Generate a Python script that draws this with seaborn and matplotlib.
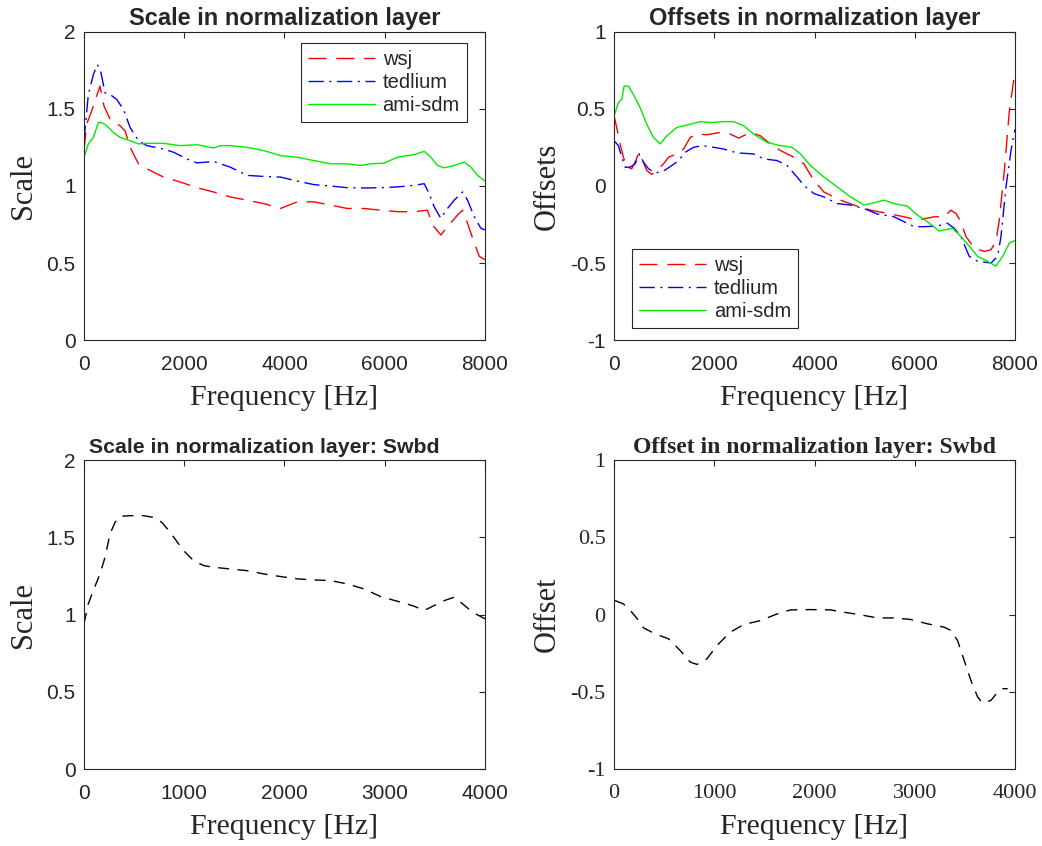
import numpy as np
import pandas as pd
import matplotlib
matplotlib.use("Agg")
import matplotlib.pyplot as plt
import seaborn as sns

# ---------------- data ----------------
wsj_scale_f = [0, 53, 153, 240, 320, 400, 520, 720, 820, 920, 1087, 1320, 1587, 1920, 2253, 2587,
               2920, 3253, 3587, 3920, 4253, 4587, 4920, 5253, 5587, 5920, 6253, 6587, 6853, 6953,
               7120, 7253, 7453, 7553, 7653, 7787, 7887, 8000]
wsj_scale_v = [1.230, 1.401, 1.487, 1.573, 1.648, 1.519, 1.433, 1.391, 1.358, 1.251, 1.144, 1.101,
               1.058, 1.026, 0.989, 0.961, 0.929, 0.908, 0.886, 0.854, 0.897, 0.897, 0.876, 0.854,
               0.854, 0.843, 0.833, 0.833, 0.843, 0.747, 0.682, 0.736, 0.811, 0.843, 0.758, 0.629,
               0.543, 0.521]

ted_scale_f = [0, 87, 187, 267, 333, 420, 520, 653, 787, 920, 1087, 1253, 1587, 1787, 2053, 2253,
               2587, 2920, 3253, 3587, 3920, 4253, 4587, 4920, 5253, 5587, 5920, 6253, 6587, 6787,
               6887, 6987, 7120, 7253, 7387, 7553, 7653, 7787, 7920, 8000]
ted_scale_v = [1.294, 1.594, 1.723, 1.788, 1.745, 1.605, 1.594, 1.562, 1.498, 1.380, 1.294, 1.262,
               1.240, 1.219, 1.176, 1.150, 1.159, 1.122, 1.069, 1.062, 1.058, 1.032, 1.009, 1.000,
               0.989, 0.987, 0.989, 0.994, 1.004, 1.015, 0.951, 0.865, 0.790, 0.854, 0.908, 0.961,
               0.908, 0.800, 0.725, 0.715]

ami_scale_f = [0, 87, 187, 287, 353, 453, 587, 720, 920, 1087, 1253, 1587, 1920, 2253, 2587, 2720,
               2920, 3253, 3587, 3920, 4253, 4587, 4920, 5253, 5520, 5720, 5987, 6253, 6587, 6787,
               6920, 7053, 7187, 7387, 7587, 7720, 7853, 8000]
ami_scale_v = [1.187, 1.273, 1.315, 1.412, 1.412, 1.391, 1.348, 1.315, 1.294, 1.273, 1.277, 1.277,
               1.262, 1.268, 1.247, 1.262, 1.262, 1.251, 1.230, 1.197, 1.187, 1.165, 1.144, 1.144,
               1.133, 1.144, 1.148, 1.187, 1.204, 1.225, 1.187, 1.133, 1.118, 1.133, 1.155, 1.122,
               1.069, 1.032]

wsj_off_f = [0, 53, 120, 187, 253, 353, 420, 487, 553, 653, 753, 853, 987, 1087, 1253, 1387, 1520,
             1653, 1853, 2120, 2320, 2487, 2720, 2920, 3120, 3320, 3587, 3787, 3987, 4187, 4520,
             4787, 5120, 5453, 5787, 6053, 6387, 6587, 6720, 6820, 6920, 7020, 7187, 7387, 7520,
             7620, 7687, 7787, 7887, 8000]
wsj_off_v = [0.455, 0.380, 0.273, 0.187, 0.122, 0.112, 0.155, 0.208, 0.176, 0.101, 0.075, 0.101,
             0.144, 0.187, 0.208, 0.240, 0.315, 0.337, 0.333, 0.348, 0.337, 0.311, 0.348, 0.326,
             0.273, 0.230, 0.187, 0.144, 0.036, -0.039, -0.092, -0.124, -0.157, -0.178, -0.200,
             -0.221, -0.200, -0.200, -0.157, -0.178, -0.232, -0.328, -0.403, -0.425, -0.414,
             -0.360, -0.221, 0.101, 0.487, 0.745]

ted_off_f = [0, 87, 153, 220, 320, 420, 507, 587, 687, 820, 987, 1153, 1287, 1420, 1587, 1753,
             1920, 2187, 2453, 2787, 2987, 3253, 3453, 3653, 3787, 3987, 4187, 4453, 4720, 4987,
             5253, 5587, 5787, 5987, 6187, 6453, 6653, 6787, 6920, 7087, 7253, 7520, 7653, 7720,
             7820, 7920, 8000]
ted_off_v = [0.294, 0.262, 0.187, 0.122, 0.122, 0.144, 0.208, 0.155, 0.112, 0.084, 0.097, 0.133,
             0.165, 0.219, 0.251, 0.262, 0.255, 0.240, 0.215, 0.208, 0.176, 0.165, 0.133, 0.058,
             0.004, -0.049, -0.071, -0.114, -0.124, -0.146, -0.182, -0.200, -0.232, -0.264,
             -0.264, -0.260, -0.242, -0.275, -0.328, -0.457, -0.489, -0.500, -0.457, -0.328,
             -0.006, 0.230, 0.369]

ami_off_f = [0, 87, 153, 200, 287, 387, 520, 653, 787, 920, 1053, 1253, 1520, 1720, 1920, 2187,
             2387, 2587, 2787, 3053, 3320, 3553, 3720, 3920, 4187, 4453, 4720, 4987, 5187, 5387,
             5587, 5853, 6053, 6253, 6487, 6753, 6920, 7120, 7253, 7453, 7620, 7753, 7887, 8000]
ami_off_v = [0.455, 0.541, 0.562, 0.648, 0.648, 0.594, 0.509, 0.401, 0.315, 0.273, 0.326, 0.380,
             0.401, 0.418, 0.412, 0.418, 0.418, 0.391, 0.337, 0.283, 0.262, 0.251, 0.208, 0.133,
             0.058, -0.006, -0.071, -0.124, -0.109, -0.092, -0.114, -0.131, -0.189, -0.232,
             -0.292, -0.275, -0.328, -0.403, -0.457, -0.489, -0.521, -0.457, -0.371, -0.354]

swbd_scale_f = [0, 43, 93, 160, 210, 260, 310, 360, 460, 593, 693, 777, 860, 993, 1093, 1193, 1293,
                1460, 1627, 1793, 1960, 2127, 2293, 2460, 2627, 2793, 2960, 3127, 3293, 3393, 3493,
                3593, 3693, 3777, 3877, 4000]
swbd_scale_v = [0.940, 1.069, 1.155, 1.263, 1.371, 1.522, 1.597, 1.636, 1.640, 1.640, 1.629, 1.597,
                1.532, 1.414, 1.349, 1.317, 1.306, 1.295, 1.284, 1.263, 1.246, 1.231, 1.224, 1.220,
                1.198, 1.166, 1.116, 1.086, 1.054, 1.026, 1.058, 1.090, 1.112, 1.069, 1.015, 0.972]

swbd_off_f = [10, 93, 177, 260, 293, 410, 543, 660, 760, 827, 927, 1027, 1160, 1293, 1460, 1627,
              1760, 1960, 2160, 2293, 2460, 2627, 2793, 2960, 3127, 3293, 3360, 3427, 3493, 3560,
              3627, 3677, 3760, 3827, 3877, 3927]
swbd_off_v = [0.090, 0.069, 0.015, -0.050, -0.086, -0.125, -0.157, -0.233, -0.308, -0.323, -0.287,
              -0.200, -0.114, -0.065, -0.039, 0.004, 0.030, 0.032, 0.030, 0.015, -0.002, -0.022,
              -0.022, -0.032, -0.060, -0.082, -0.103, -0.168, -0.297, -0.427, -0.534, -0.573,
              -0.556, -0.502, -0.480, -0.480]

series_names = ["wsj", "tedlium", "ami-sdm"]

# ---------------- style ----------------
sns.set_style("white")
plt.rcParams["font.family"] = ["Liberation Sans", "DejaVu Sans"]
plt.rcParams["axes.edgecolor"] = "#262626"
plt.rcParams["axes.linewidth"] = 0.8
plt.rcParams["xtick.color"] = "#262626"
plt.rcParams["ytick.color"] = "#262626"

SERIF = ["Liberation Serif", "DejaVu Serif"]
SANS = ["Liberation Sans", "DejaVu Sans"]

fig = plt.figure(figsize=(10.42, 8.46), dpi=100)
ax1 = fig.add_axes([0.0806, 0.5981, 0.3848, 0.3641])
ax2 = fig.add_axes([0.5893, 0.5981, 0.3848, 0.3641])
ax3 = fig.add_axes([0.0806, 0.0910, 0.3848, 0.3652])
ax4 = fig.add_axes([0.5893, 0.0910, 0.3848, 0.3652])

RED = (1, 0, 0)
BLUE = (0, 0, 1)
GREEN = (0.0, 0.93, 0.0)
DASH_WSJ = (13, 7)
DASH_TED = (11, 4, 1.5, 4)


def draw_three(ax, data, legend_loc, anchor):
    (f1, v1), (f2, v2), (f3, v3) = data
    sns.lineplot(x=f1, y=v1, ax=ax, color=RED, lw=1.0, label=series_names[0])
    ax.lines[-1].set_dashes(DASH_WSJ)
    sns.lineplot(x=f2, y=v2, ax=ax, color=BLUE, lw=1.0, label=series_names[1])
    ax.lines[-1].set_dashes(DASH_TED)
    sns.lineplot(x=f3, y=v3, ax=ax, color=GREEN, lw=1.0, label=series_names[2])
    leg = ax.legend(loc=legend_loc, bbox_to_anchor=anchor, fontsize=14.5, handlelength=3.3,
                    frameon=True, fancybox=False, edgecolor="#262626", borderpad=0.35,
                    labelspacing=0.2, handletextpad=0.4, borderaxespad=0.0, framealpha=1)
    leg.get_frame().set_linewidth(0.8)


draw_three(ax1, [(wsj_scale_f, wsj_scale_v), (ted_scale_f, ted_scale_v),
                 (ami_scale_f, ami_scale_v)], "upper right", (0.955, 0.964))
draw_three(ax2, [(wsj_off_f, wsj_off_v), (ted_off_f, ted_off_v),
                 (ami_off_f, ami_off_v)], "lower left", (0.045, 0.039))

sns.lineplot(x=swbd_scale_f, y=swbd_scale_v, ax=ax3, color="black", lw=1.0)
ax3.lines[-1].set_dashes((8, 6))
sns.lineplot(x=swbd_off_f, y=swbd_off_v, ax=ax4, color="black", lw=1.0)
ax4.lines[-1].set_dashes((8, 6))

# ---------------- axes formatting ----------------
cfg = [
    (ax1, (0, 8000), (0, 2), [0, 2000, 4000, 6000, 8000], [0, 0.5, 1, 1.5, 2],
     ["0", "0.5", "1", "1.5", "2"], "Scale", "Scale in normalization layer", False, 17, 0.5),
    (ax2, (0, 8000), (-1, 1), [0, 2000, 4000, 6000, 8000], [-1, -0.5, 0, 0.5, 1],
     ["-1", "-0.5", "0", "0.5", "1"], "Offsets", "Offsets in normalization layer", False, 17, 0.5),
    (ax3, (0, 4000), (0, 2), [0, 1000, 2000, 3000, 4000], [0, 0.5, 1, 1.5, 2],
     ["0", "0.5", "1", "1.5", "2"], "Scale", "Scale in normalization layer: Swbd", False, 15.3, 0.45),
    (ax4, (0, 4000), (-1, 1), [0, 1000, 2000, 3000, 4000], [-1, -0.5, 0, 0.5, 1],
     ["-1", "-0.5", "0", "0.5", "1"], "Offset", "Offset in normalization layer: Swbd", True, 17, 0.5),
]
for ax, xl, yl, xt, yt, ytl, ylab, title, serif_ticks, tsize, tx in cfg:
    ax.set_xlim(*xl)
    ax.set_ylim(*yl)
    ax.set_xticks(xt)
    ax.set_xticklabels([str(t) for t in xt])
    ax.set_yticks(yt)
    ax.set_yticklabels(ytl)
    ax.tick_params(direction="in", length=4, width=0.8, top=True, right=True,
                   labelsize=15, pad=6)
    ax.tick_params(axis="x", pad=11)
    for lab in ax.get_xticklabels() + ax.get_yticklabels():
        lab.set_family(SERIF if serif_ticks else SANS)
        if serif_ticks:
            lab.set_fontsize(16)
    for s in ax.spines.values():
        s.set_visible(True)
        s.set_color("#262626")
        s.set_linewidth(0.8)
    ax.set_xlabel("Frequency [Hz]", family=SERIF, fontsize=21.5, color="#262626", labelpad=8)
    ax.set_ylabel(ylab, family=SERIF, fontsize=22, color="#262626", labelpad=6)
    t = ax.set_title(title, family=SERIF if serif_ticks else SANS, fontweight="bold",
                     fontsize=tsize, pad=5)
    t.set_x(tx)

fig.savefig("out.png", dpi=100)
